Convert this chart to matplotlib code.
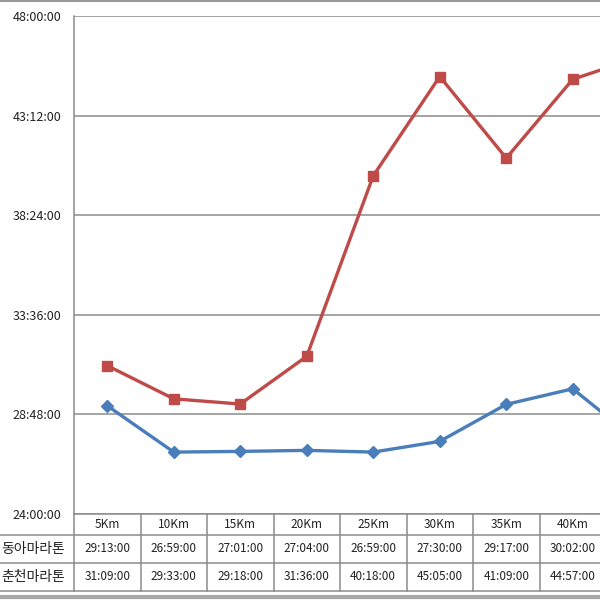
import matplotlib
matplotlib.use("Agg")
import matplotlib.pyplot as plt
from matplotlib.lines import Line2D
from matplotlib.transforms import blended_transform_factory

plt.rcParams["font.family"] = ["Noto Sans CJK KR", "DejaVu Sans"]

# ---------------------------------------------------------------------------
# Data (split times, mm:ss shown as mm:ss:00 like the source sheet)
# ---------------------------------------------------------------------------
categories = ["5Km", "10Km", "15Km", "20Km", "25Km", "30Km", "35Km", "40Km", "Finish"]
series_names = ["동아마라톤", "춘천마라톤"]
dong_a = ["29:13:00", "26:59:00", "27:01:00", "27:04:00", "26:59:00",
          "27:30:00", "29:17:00", "30:02:00", "27:27:00"]
chuncheon = ["31:09:00", "29:33:00", "29:18:00", "31:36:00", "40:18:00",
             "45:05:00", "41:09:00", "44:57:00", "46:01:00"]
y_ticks = ["24:00:00", "28:48:00", "33:36:00", "38:24:00", "43:12:00", "48:00:00"]

BLUE = "#4A7EBB"
RED = "#BE4B48"
GRID = "#8C8C8C"


def to_minutes(s):
    mm, ss, _ = s.split(":")
    return int(mm) + int(ss) / 60.0


W, H = 600, 600
fig = plt.figure(figsize=(6, 6), dpi=100)
fig.patch.set_facecolor("white")

# axes runs past the right edge, the source image is cropped there
ax_left, ax_top, ax_bottom = 74, 16, 514
cat_w = 66.5
ax = fig.add_axes([ax_left / W, 1 - ax_bottom / H,
                   cat_w * len(categories) / W, (ax_bottom - ax_top) / H])

x = list(range(len(categories)))
ax.plot(x, [to_minutes(v) for v in dong_a], color=BLUE, lw=2.4,
        marker="D", ms=6.5, mfc=BLUE, mec=BLUE, zorder=3)
ax.plot(x, [to_minutes(v) for v in chuncheon], color=RED, lw=2.4,
        marker="s", ms=7, mfc=RED, mec=RED, zorder=3)

ax.set_xlim(-0.5, len(categories) - 0.5)
ax.set_ylim(24, 48)
ax.set_yticks([to_minutes(t) for t in y_ticks])
ax.set_yticklabels(y_ticks, fontsize=9, color="#222222")
ax.tick_params(axis="y", length=0, pad=9)
ax.set_xticks([])
ax.yaxis.grid(True, color=GRID, lw=1.1)
ax.set_axisbelow(True)
for side in ("top", "right", "bottom"):
    ax.spines[side].set_visible(False)
ax.spines["left"].set_color(GRID)
ax.spines["left"].set_linewidth(1.1)

# ---------------------------------------------------------------------------
# Data table under the plot
# ---------------------------------------------------------------------------
ax_h = ax_bottom - ax_top


def fy(px):
    return (ax_bottom - px) / ax_h


row_edges = [514, 535, 563, 591]
trans_data_x = ax.get_xaxis_transform()
trans_fig_x = blended_transform_factory(fig.transFigure, ax.transAxes)

for r, py in enumerate(row_edges):
    if r == 0:
        ax.add_line(Line2D([-0.5, len(categories) - 0.5], [fy(py), fy(py)],
                           transform=trans_data_x, color=GRID, lw=1.1, clip_on=False))
    else:
        ax.add_line(Line2D([0, 1.2], [fy(py), fy(py)], transform=trans_fig_x,
                           color=GRID, lw=1.1, clip_on=False))

for i in range(len(categories) + 1):
    ax.add_line(Line2D([i - 0.5, i - 0.5], [fy(row_edges[0]), fy(row_edges[-1])],
                       transform=trans_data_x, color=GRID, lw=1.1, clip_on=False))

visible = len(categories) - 1
for i in range(visible):
    ax.text(i, fy((row_edges[0] + row_edges[1]) / 2), categories[i],
            transform=trans_data_x, ha="center", va="center", fontsize=8.5,
            color="#222222", clip_on=False)
    for r, vals in enumerate([dong_a, chuncheon]):
        yc = fy((row_edges[r + 1] + row_edges[r + 2]) / 2)
        ax.text(i, yc, vals[i], transform=trans_data_x, ha="center", va="center",
                fontsize=8.5, color="#222222", clip_on=False)

for r, name in enumerate(series_names):
    yc = fy((row_edges[r + 1] + row_edges[r + 2]) / 2)
    ax.text(1 / W, yc, name, transform=trans_fig_x, ha="left", va="center",
            fontsize=10, color="#222222", clip_on=False)

# chart area border (top and bottom visible in the crop)
fig.add_artist(Line2D([0, 1], [1 - 1 / H, 1 - 1 / H], transform=fig.transFigure,
                      color="#9A9A9A", lw=1.5))
fig.add_artist(Line2D([0, 1], [1 - 597 / H, 1 - 597 / H], transform=fig.transFigure,
                      color="#A8A8A8", lw=3))

fig.savefig("out.png", dpi=100)
